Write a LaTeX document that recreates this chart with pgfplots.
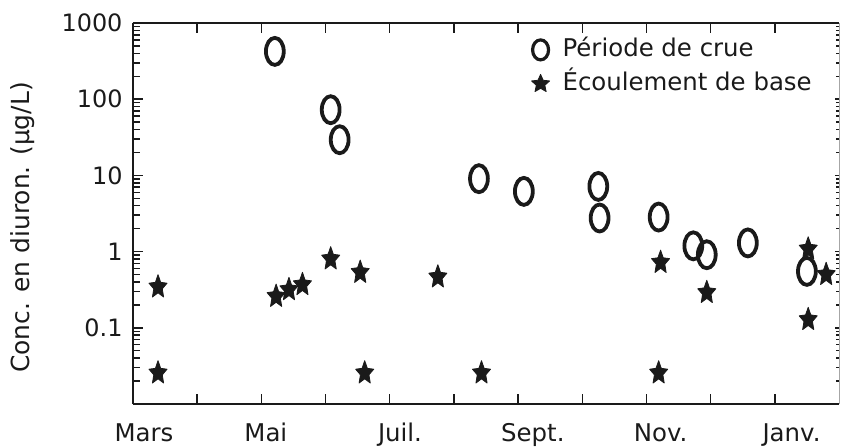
\documentclass[border=0pt]{standalone}
\usepackage{fontspec}
\setmainfont{DejaVu Sans}
\usepackage{pgfplots}
\pgfplotsset{compat=1.18}
\definecolor{ink}{HTML}{1A1A1A}
\pgfdeclareplotmark{fstar}{%
  \pgfpathmoveto{\pgfpointpolar{90}{\pgfplotmarksize}}%
  \pgfpathlineto{\pgfpointpolar{126}{0.47*\pgfplotmarksize}}%
  \pgfpathlineto{\pgfpointpolar{162}{\pgfplotmarksize}}%
  \pgfpathlineto{\pgfpointpolar{198}{0.47*\pgfplotmarksize}}%
  \pgfpathlineto{\pgfpointpolar{234}{\pgfplotmarksize}}%
  \pgfpathlineto{\pgfpointpolar{270}{0.47*\pgfplotmarksize}}%
  \pgfpathlineto{\pgfpointpolar{306}{\pgfplotmarksize}}%
  \pgfpathlineto{\pgfpointpolar{342}{0.47*\pgfplotmarksize}}%
  \pgfpathlineto{\pgfpointpolar{18}{\pgfplotmarksize}}%
  \pgfpathlineto{\pgfpointpolar{54}{0.47*\pgfplotmarksize}}%
  \pgfpathclose\pgfusepathqfillstroke}
\def\minorlist{0.02,0.03,0.04,0.05,0.06,0.07,0.08,0.09,0.2,0.3,0.4,0.5,0.6,0.7,0.8,0.9,2,3,4,5,6,7,8,9,20,30,40,50,60,70,80,90,200,300,400,500,600,700,800,900}
\begin{document}
\begin{tikzpicture}
\begin{axis}[
  at={(0,0)}, anchor=south west,
  scale only axis, width=706bp, height=381bp,
  xmin=0, xmax=11,
  ymode=log, ymin=0.01, ymax=1000,
  axis x line=box, axis y line=left,
  axis line style={-, line width=1.6bp, ink},
  tick style={line width=1.5bp, ink},
  tick align=inside,
  major tick length=10bp, minor tick length=7bp,
  xtick={1,2,3,4,5,6,7,8,9,10}, xticklabels={},
  ytick={0.1,1,10,100,1000}, yticklabels={0.1,1,10,100,1000},
  minor ytick/.expanded={\minorlist},
  /pgf/number format/assume math mode=true,
  yticklabel style={font=\fontsize{24}{28}\selectfont, text=ink, xshift=-7bp},
  extra x ticks={0.17,2.07,4.16,6.23,8.22,10.26},
  extra x tick labels={Mars,Mai,Juil.,Sept.,Nov.,Janv.},
  extra x tick style={major tick length=0pt, tick style={draw=none},
    xticklabel style={anchor=base, yshift=-37.5bp, font=\fontsize{24.5}{29}\selectfont, text=ink}},
  ylabel={Conc. en diuron. (µg/L)},
  every axis y label/.style={at={(axis description cs:-0.157,0.463)}, anchor=center, rotate=90,
    font=\fontsize{25}{30}\selectfont, text=ink},
  legend cell align=left,
  legend style={draw=none, fill=none, at={(rel axis cs:0.56,0.968)}, anchor=north west,
    font=\fontsize{24.5}{29}\selectfont, text=ink,
    nodes={inner sep=1bp, text height=18bp, text depth=5bp}, row sep=9bp, column sep=12bp},
]
\addplot[only marks, mark=o, mark size=13.5bp,
  mark options={xscale=0.66, line width=3.8bp, draw=ink},
  legend image code/.code={\draw[mark=o, mark size=10bp, mark options={xscale=0.8, line width=3.2bp, draw=ink}] plot coordinates {(0.3cm,0cm)};}]
coordinates {
(2.21,424) (3.08,72.8) (3.22,29.4) (5.39,9.06) (6.09,6.17) (7.25,7.17) (7.27,2.76)
(8.19,2.84) (8.73,1.19) (8.94,0.91) (9.58,1.30) (10.50,0.55)
};
\addlegendentry{Période de crue}
\addplot[only marks, mark=fstar, mark size=9.5bp,
  mark options={yscale=1.3, fill=ink, draw=ink, line width=0.8bp, line join=round},
  legend image code/.code={\draw[mark=fstar, mark size=9.5bp, mark options={fill=ink, draw=ink, line width=0.8bp, line join=round}] plot coordinates {(0.3cm,0cm)};}]
coordinates {
(0.39,0.343) (0.39,0.0255) (2.23,0.258) (2.43,0.316) (2.64,0.368) (3.08,0.80)
(3.54,0.533) (3.61,0.0255) (4.75,0.464) (5.43,0.0255) (8.22,0.72) (8.19,0.0255)
(8.94,0.29) (10.52,1.08) (10.80,0.50) (10.52,0.128)
};
\addlegendentry{Écoulement de base}
\end{axis}
\begin{axis}[
  at={(0,0)}, anchor=south west,
  scale only axis, width=706bp, height=381bp,
  xmin=0, xmax=11,
  ymode=log, ymin=0.01, ymax=1000,
  hide x axis, axis y line*=right,
  axis line style={-, line width=0.6bp, gray!70},
  tick style={line width=1.5bp, ink},
  tick align=inside,
  major tick length=4bp, minor tick length=3bp,
  ytick={0.1,1,10,100,1000}, yticklabels={},
  minor ytick/.expanded={\minorlist},
]
\addplot[draw=none, forget plot] coordinates {(0,1)};
\end{axis}
\pgfresetboundingbox
\path[use as bounding box] (-133bp,-43bp) rectangle (708bp,404bp);
\end{tikzpicture}
\end{document}
